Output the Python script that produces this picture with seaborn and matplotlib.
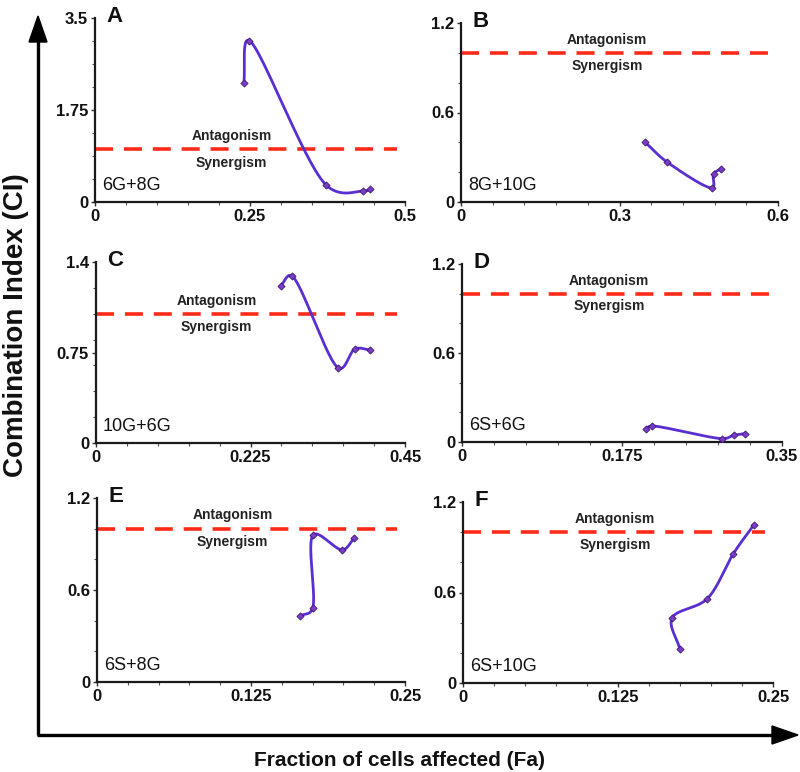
import numpy as np
import pandas as pd
import matplotlib
matplotlib.use("Agg")
import matplotlib.pyplot as plt
import seaborn as sns
from matplotlib.ticker import FixedLocator, MultipleLocator
from matplotlib.patches import Polygon

sns.set_theme(style="white")
plt.rcParams["font.family"] = ["Liberation Sans", "DejaVu Sans"]

# ---------------- data ----------------
panels = ["A", "B", "C", "D", "E", "F"]
combos = ["6G+8G", "8G+10G", "10G+6G", "6S+6G", "6S+8G", "6S+10G"]

fa_A = [0.240, 0.249, 0.373, 0.433, 0.444]
ci_A = [2.26, 3.07, 0.32, 0.21, 0.24]
fa_B = [0.348, 0.390, 0.475, 0.478, 0.492]
ci_B = [0.402, 0.268, 0.094, 0.186, 0.224]
fa_C = [0.269, 0.286, 0.353, 0.377, 0.399]
ci_C = [1.217, 1.289, 0.58, 0.727, 0.72]
fa_D = [0.2016, 0.208, 0.284, 0.297, 0.310]
ci_D = [0.086, 0.108, 0.023, 0.045, 0.057]
fa_E = [0.165, 0.175, 0.1755, 0.199, 0.209]
ci_E = [0.432, 0.48, 0.96, 0.862, 0.942]
fa_F = [0.1748, 0.1686, 0.197, 0.218, 0.2347]
ci_F = [0.227, 0.431, 0.559, 0.857, 1.05]

fa_all = [fa_A, fa_B, fa_C, fa_D, fa_E, fa_F]
ci_all = [ci_A, ci_B, ci_C, ci_D, ci_E, ci_F]

x_max = [0.5, 0.6, 0.45, 0.35, 0.25, 0.25]
y_max = [3.5, 1.2, 1.4, 1.2, 1.2, 1.2]
x_ticklabels = [["0", "0.25", "0.5"], ["0", "0.3", "0.6"], ["0", "0.225", "0.45"],
                ["0", "0.175", "0.35"], ["0", "0.125", "0.25"], ["0", "0.125", "0.25"]]
y_ticklabels = [["0", "1.75", "3.5"], ["0", "0.6", "1.2"], ["0", "0.75", "1.4"],
                ["0", "0.6", "1.2"], ["0", "0.6", "1.2"], ["0", "0.6", "1.2"]]
y_minor_div = [8, 6, 7, 6, 6, 6]
ci_threshold = 1.0

# ---------------- layout (pixel boxes: left, top, right, bottom) ----------------
W, H = 800, 772
boxes = [(95, 18, 405, 202), (461, 23, 778, 202),
         (96, 262, 405, 443), (462, 264, 782, 442),
         (97, 498, 405, 682), (463, 502, 773, 683)]
label_xfrac = [0.44, 0.46, 0.39, 0.46, 0.44, 0.49]

LINE_C = "#5a2fd2"
MARK_C = "#7d3cc8"
DASH_C = "#ff2a1a"


def smooth(xs, ys, sx, sy, n=50, alpha=0.3):
    """Catmull-Rom curve through the data points (pixel-scaled space)."""
    P = np.column_stack([np.asarray(xs) * sx, np.asarray(ys) * sy])
    P = np.vstack([2 * P[0] - P[1], P, 2 * P[-1] - P[-2]])
    out = []
    for i in range(1, len(P) - 2):
        p0, p1, p2, p3 = P[i - 1], P[i], P[i + 1], P[i + 2]
        t0 = 0.0
        t1 = t0 + max(np.linalg.norm(p1 - p0), 1e-6) ** alpha
        t2 = t1 + max(np.linalg.norm(p2 - p1), 1e-6) ** alpha
        t3 = t2 + max(np.linalg.norm(p3 - p2), 1e-6) ** alpha
        t = np.linspace(t1, t2, n)[:, None]
        A1 = (t1 - t) / (t1 - t0) * p0 + (t - t0) / (t1 - t0) * p1
        A2 = (t2 - t) / (t2 - t1) * p1 + (t - t1) / (t2 - t1) * p2
        A3 = (t3 - t) / (t3 - t2) * p2 + (t - t2) / (t3 - t2) * p3
        B1 = (t2 - t) / (t2 - t0) * A1 + (t - t0) / (t2 - t0) * A2
        B2 = (t3 - t) / (t3 - t1) * A2 + (t - t1) / (t3 - t1) * A3
        Cc = (t2 - t) / (t2 - t1) * B1 + (t - t1) / (t2 - t1) * B2
        out.append(Cc)
    C = np.vstack(out)
    return C[:, 0] / sx, C[:, 1] / sy


fig = plt.figure(figsize=(W / 100, H / 100), dpi=100)

for i in range(6):
    l, t, r, b = boxes[i]
    ax = fig.add_axes([l / W, 1 - b / H, (r - l) / W, (b - t) / H])
    ax.set_xlim(0, x_max[i])
    ax.set_ylim(0, y_max[i])
    for s in ["top", "right"]:
        ax.spines[s].set_visible(False)
    for s in ["left", "bottom"]:
        ax.spines[s].set_color("#1a1a1a")
        ax.spines[s].set_linewidth(1.6)

    # dashed threshold
    ax.axhline(ci_threshold, xmin=0.0, xmax=0.975, color=DASH_C, lw=2.6,
               dashes=(5, 3), zorder=2)
    ax.text(label_xfrac[i], ci_threshold + 0.072 * y_max[i], "Antagonism",
            transform=ax.get_yaxis_transform(), ha="center", va="center",
            fontsize=10, fontweight="bold", color="#222222")
    ax.text(label_xfrac[i], ci_threshold - 0.072 * y_max[i], "Synergism",
            transform=ax.get_yaxis_transform(), ha="center", va="center",
            fontsize=10, fontweight="bold", color="#222222")

    # curve
    sx = (r - l) / x_max[i]
    sy = (b - t) / y_max[i]
    cx, cy = smooth(fa_all[i], ci_all[i], sx, sy)
    df_c = pd.DataFrame({"Fa": cx, "CI": cy})
    sns.lineplot(data=df_c, x="Fa", y="CI", sort=False, estimator=None,
                 color=LINE_C, lw=2.0, ax=ax, zorder=3)
    df_p = pd.DataFrame({"Fa": fa_all[i], "CI": ci_all[i]})
    sns.scatterplot(data=df_p, x="Fa", y="CI", marker="D", s=13,
                    color=MARK_C, edgecolor="#3a1a70", linewidth=0.6,
                    ax=ax, zorder=4)
    ax.set_xlabel("")
    ax.set_ylabel("")

    # ticks
    ax.xaxis.set_major_locator(FixedLocator([0, x_max[i] / 2, x_max[i]]))
    ax.set_xticklabels(x_ticklabels[i])
    ax.yaxis.set_major_locator(FixedLocator([0, y_max[i] / 2, y_max[i]]))
    ax.set_yticklabels(y_ticklabels[i])
    ax.xaxis.set_minor_locator(MultipleLocator(x_max[i] / 10))
    ax.yaxis.set_minor_locator(MultipleLocator(y_max[i] / y_minor_div[i]))
    ax.tick_params(axis="both", which="major", direction="out", length=3,
                   width=1.0, color="#333333", labelsize=12, pad=2,
                   labelcolor="#111111")
    ax.tick_params(axis="both", which="minor", direction="out", length=2,
                   width=0.8, color="#555555")
    ax.tick_params(axis="x", which="both", bottom=True)
    ax.tick_params(axis="y", which="both", left=True)
    for lab in ax.get_xticklabels() + ax.get_yticklabels():
        lab.set_fontweight("bold")

    # panel letter & combination label
    ax.annotate(panels[i], xy=(0, 1), xycoords="axes fraction",
                xytext=(8, 1), textcoords="offset points", ha="left",
                va="center", fontsize=16, fontweight="bold", color="#111111")
    ax.annotate(combos[i], xy=(0, 0), xycoords="axes fraction",
                xytext=(5, 12), textcoords="offset points", ha="left",
                va="center", fontsize=13, color="#111111")

# big outer arrows (drawn in a full-figure overlay in pixel units)
ov = fig.add_axes([0, 0, 1, 1], zorder=-1)
ov.set_xlim(0, W)
ov.set_ylim(H, 0)
ov.axis("off")
ov.plot([38, 38], [735, 38], color="black", lw=2.4, solid_capstyle="butt")
ov.plot([37, 776], [735, 735], color="black", lw=2.4, solid_capstyle="butt")
ov.add_patch(Polygon([[38, 16], [29, 42], [47, 42]], closed=True, color="black"))
ov.add_patch(Polygon([[798, 735], [772, 726], [772, 744]], closed=True, color="black"))
ov.text(16, 325, "Combination Index (CI)", rotation=90, ha="center", va="center",
        fontsize=20, fontweight="bold", color="#111111")
ov.text(400, 760, "Fraction of cells affected (Fa)", ha="center", va="center",
        fontsize=15, fontweight="bold", color="#111111")

fig.savefig("out.png", dpi=100)
